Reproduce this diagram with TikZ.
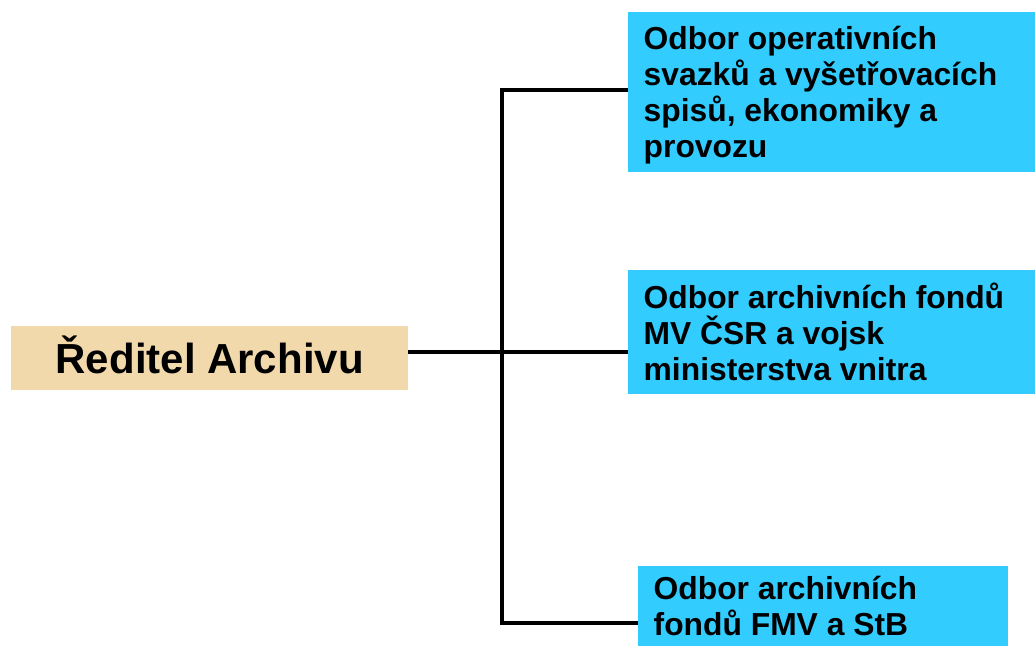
\documentclass[tikz,border=0pt]{standalone}
\usepackage{fontspec}
\setmainfont{Liberation Sans}
\definecolor{cyanbox}{RGB}{51,204,255}
\definecolor{wheatbox}{RGB}{242,217,172}
\begin{document}
\begin{tikzpicture}[x=1pt,y=-1pt,
  conn/.style={line width=3.5pt,black},
  shadow/.style={line width=3.5pt,black!25},
  dept/.style={fill=cyanbox,draw=none,inner sep=0pt,anchor=north west},
  depttext/.style={anchor=north west,inner sep=0pt,align=left,font=\fontsize{31.8}{36}\selectfont\bfseries}]
\useasboundingbox (0,0) rectangle (1035,645);
% director
\node[fill=wheatbox,minimum width=397pt,minimum height=64pt,inner sep=0pt,anchor=north west,
  text height=31pt,text depth=0pt,
  font=\fontsize{42}{46}\selectfont\bfseries] (dir) at (11,326) {Ředitel Archivu};
% department boxes
\node[dept,minimum width=407pt,minimum height=160pt] (d1) at (628,12) {};
\node[depttext] (t1) at (643.5,25.5) {Odbor operativních\\svazků a vyšetřovacích\\spisů, ekonomiky a\\provozu};
\node[dept,minimum width=407pt,minimum height=124pt] (d2) at (628,270) {};
\node[depttext] (t2) at (643.5,282.5) {Odbor archivních fondů\\MV ČSR a vojsk\\ministerstva vnitra};
\node[dept,minimum width=370pt,minimum height=80pt] (d3) at (638,566) {};
\node[depttext] (t3) at (653.5,576) {Odbor archivních\\fondů FMV a StB};
% connectors
\coordinate (j) at (502,352);
\coordinate (top) at (502,90);
\coordinate (bot) at (502,623);
\begin{scope}[shift={(0.8,1.2)}]
\draw[shadow] (dir.east |- j) -- (d2.west |- j);
\draw[shadow] (d1.west |- top) -- (top) -- (bot) -- (d3.west |- bot);
\end{scope}
\draw[conn] (dir.east |- j) -- (d2.west |- j);
\draw[conn] (d1.west |- top) -- (top) -- (bot) -- (d3.west |- bot);
\end{tikzpicture}
\end{document}
